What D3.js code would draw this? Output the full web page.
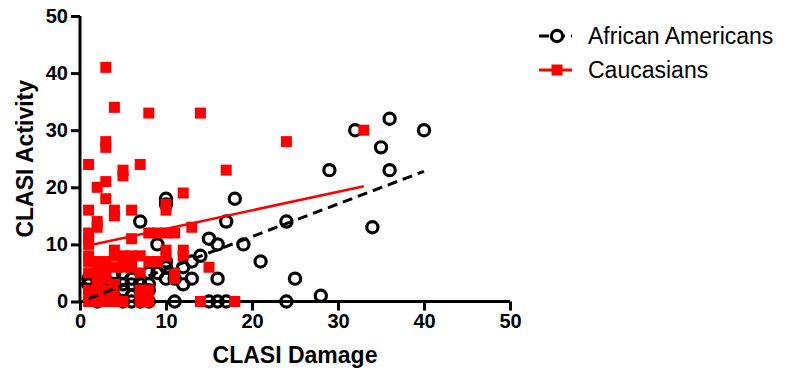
<!DOCTYPE html>
<html>
<head>
<meta charset="utf-8">
<script src="https://cdn.jsdelivr.net/npm/d3@7"></script>
<style>
  body { margin: 0; background: #fff; }
  svg { display: block; font-family: "Liberation Sans", Arial, sans-serif; }
</style>
</head>
<body>
<div id="chart"></div>
<script>
// [CLASI Damage, CLASI Activity]
const africanAmericans = [
  [1, 4], [1, 3], [1, 3], [2, 5], [2, 4], [2, 0], [3, 3], [3, 2], [4, 3], [4, 5],
  [5, 5], [5, 3], [5, 2], [5, 0], [6, 4], [6, 3], [6, 0], [6, 1], [7, 3], [7, 2],
  [7, 0], [7, 14], [8, 3], [8, 2], [8, 0], [8, 5], [9, 5], [9, 10], [10, 18], [10, 17],
  [10, 7], [10, 6], [10, 4], [11, 4], [11, 0], [12, 6], [12, 3], [13, 4], [13, 7], [14, 8],
  [15, 11], [15, 0], [16, 10], [16, 4], [16, 0], [17, 14], [17, 0], [18, 18], [19, 10], [21, 7],
  [24, 14], [24, 0], [25, 4], [28, 1], [29, 23], [32, 30], [34, 13], [35, 27], [36, 32], [36, 23],
  [40, 30]
];

const caucasians = [
  [3, 41], [4, 34], [8, 33], [14, 33], [3, 28], [3, 27], [1, 24], [7, 24], [5, 23], [5, 22],
  [17, 23], [24, 28], [33, 30], [2, 20], [3, 21], [3, 18], [12, 19], [1, 16], [4, 16], [4, 15],
  [6, 16], [10, 16], [10, 17], [2, 14], [2, 13], [1, 12], [1, 11], [1, 10], [1, 8], [1, 7],
  [8, 12], [10, 12], [11, 12], [13, 13], [6, 11], [9, 12],
  [1, 0], [1, 1], [1, 2], [1, 5], [2, 0], [2, 1], [2, 2], [2, 3], [2, 4],
  [2, 5], [2, 6], [2, 7], [3, 0], [3, 2], [3, 4], [3, 5], [3, 6], [3, 7], [4, 0],
  [4, 1], [4, 3], [4, 6], [4, 8], [4, 9], [5, 0], [5, 6], [5, 7], [5, 8], [6, 6],
  [6, 7], [6, 8], [7, 0], [7, 1], [7, 2], [7, 5], [7, 8], [8, 0], [8, 2], [8, 7],
  [9, 7], [10, 8], [10, 9], [11, 5], [11, 4], [12, 9], [12, 8], [14, 0], [15, 6], [18, 0]
];

// regression lines (end points)
const africanAmericansFit = [[1, 0.5], [40, 22.8]];
const caucasiansFit = [[1, 9.8], [33, 20.2]];

const xTicks = [0, 10, 20, 30, 40, 50];
const yTicks = [0, 10, 20, 30, 40, 50];
const seriesNames = ['African Americans', 'Caucasians'];

const width = 787, height = 378;

const svg = d3.select('#chart').append('svg')
  .attr('width', width).attr('height', height);

const x = d3.scaleLinear().domain([0, 50]).range([80, 510]);
const y = d3.scaleLinear().domain([0, 50]).range([301.5, 16]);

// axes
const xAxis = svg.append('g')
  .attr('transform', 'translate(0,' + y(0) + ')')
  .call(d3.axisBottom(x).tickValues(xTicks).tickSize(9).tickPadding(3).tickFormat(d3.format('d')));
const yAxis = svg.append('g')
  .attr('transform', 'translate(' + x(0) + ',0)')
  .call(d3.axisLeft(y).tickValues(yTicks).tickSize(9).tickPadding(3).tickFormat(d3.format('d')));

[xAxis, yAxis].forEach(a => {
  a.select('.domain').attr('stroke', '#000').attr('stroke-width', 3).attr('d',
    a === xAxis ? 'M' + x(0) + ',0H' + x(50) : 'M0,' + y(0) + 'V' + y(50));
  a.selectAll('.tick line').attr('stroke', '#000').attr('stroke-width', 3);
  a.selectAll('.tick text').attr('fill', '#000')
    .style('font-size', '20px').style('font-weight', 'bold')
    .style('font-family', '"Liberation Sans", Arial, sans-serif');
});

// axis titles
svg.append('text')
  .attr('x', (x(0) + x(50)) / 2).attr('y', 363)
  .attr('text-anchor', 'middle')
  .style('font-size', '23px').style('font-weight', 'bold')
  .text('CLASI Damage');

svg.append('text')
  .attr('transform', 'translate(33,' + (y(0) + y(50)) / 2 + ') rotate(-90)')
  .attr('text-anchor', 'middle')
  .style('font-size', '23px').style('font-weight', 'bold')
  .text('CLASI Activity');

// points
const sq = 11;
svg.append('g').selectAll('circle')
  .data(africanAmericans)
  .enter().append('circle')
    .attr('cx', d => x(d[0]))
    .attr('cy', d => y(d[1]))
    .attr('r', 5.6)
    .attr('fill', 'none')
    .attr('stroke', '#000')
    .attr('stroke-width', 3.2);

svg.append('g').selectAll('rect')
  .data(caucasians)
  .enter().append('rect')
    .attr('x', d => x(d[0]) - sq / 2)
    .attr('y', d => y(d[1]) - sq / 2)
    .attr('width', sq).attr('height', sq)
    .attr('fill', '#ff0000');

// fit lines
const line = d3.line().x(d => x(d[0])).y(d => y(d[1]));

svg.append('path')
  .datum(caucasiansFit)
  .attr('d', line)
  .attr('fill', 'none').attr('stroke', '#ff0000').attr('stroke-width', 2.5);

svg.append('path')
  .datum(africanAmericansFit)
  .attr('d', line)
  .attr('fill', 'none').attr('stroke', '#000').attr('stroke-width', 3)
  .attr('stroke-dasharray', '10,6');

// legend
const legend = svg.append('g');
const rows = legend.selectAll('g')
  .data(seriesNames)
  .enter().append('g')
    .attr('transform', (d, i) => 'translate(0,' + (36 + i * 34) + ')');

rows.append('line')
  .attr('x1', 539).attr('x2', 572).attr('y1', 0).attr('y2', 0)
  .attr('stroke', (d, i) => i === 0 ? '#000' : '#ff0000')
  .attr('stroke-width', 3)
  .attr('stroke-dasharray', (d, i) => i === 0 ? '10,6' : null);

rows.filter((d, i) => i === 0).append('circle')
  .attr('cx', 557).attr('cy', 0).attr('r', 5.6)
  .attr('fill', '#fff').attr('stroke', '#000').attr('stroke-width', 3.2);

rows.filter((d, i) => i === 1).append('rect')
  .attr('x', 557 - sq / 2).attr('y', -sq / 2)
  .attr('width', sq).attr('height', sq)
  .attr('fill', '#ff0000');

rows.append('text')
  .attr('x', 588).attr('y', 8)
  .style('font-size', '23px')
  .text(d => d);
</script>
</body>
</html>
